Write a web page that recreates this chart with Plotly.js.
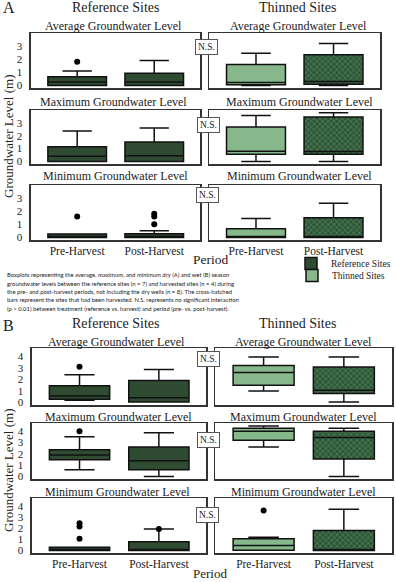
<!DOCTYPE html>
<html><head><meta charset="utf-8">
<script src="https://cdn.plot.ly/plotly-3.0.1.min.js"></script>
<style>html,body{margin:0;padding:0;background:#fff}#chart{width:396px;height:582px}</style>
</head><body><div id="chart"></div>
<script>
// ---- data: [lowerWhisker, q1, median, q3, upperWhisker] for Pre, Post ----
const periods = ['Pre-Harvest', 'Post-Harvest'];
const panelLabels = ['A', 'B'];
const groupTitles = ['Reference Sites', 'Thinned Sites'];
const rowTitles = ['Average Groundwater Level', 'Maximum Groundwater Level', 'Minimum Groundwater Level'];
const legendNames = ['Reference Sites', 'Thinned Sites'];

// Panel A (dry season)
const dryAvgRef = [[0, 0, 0.25, 0.65, 1.1], [0, 0, 0.25, 0.92, 1.9]];
const dryAvgRefOut = [[1.8], []];
const dryAvgThin = [[0, 0.05, 0.22, 1.6, 2.45], [0, 0.08, 0.3, 2.33, 3.2]];
const dryAvgThinOut = [[], []];
const dryMaxRef = [[0, 0, 0.4, 1.14, 2.37], [0, 0, 0.45, 1.52, 2.6]];
const dryMaxRefOut = [[], []];
const dryMaxThin = [[0, 0.55, 0.8, 2.68, 3.58], [0, 0.55, 0.78, 3.45, 3.78]];
const dryMaxThinOut = [[], []];
const dryMinRef = [[0, 0, 0.03, 0.25, 0.25], [0, 0, 0.03, 0.28, 0.5]];
const dryMinRefOut = [[1.6], [1.8, 1.6, 1.0]];
const dryMinThin = [[0, 0, 0.05, 0.65, 1.45], [0, 0, 0.05, 1.5, 2.6]];
const dryMinThinOut = [[], []];

// Panel B (wet season)
const wetAvgRef = [[0.2, 0.27, 0.56, 1.45, 2.4], [0.03, 0.03, 0.4, 1.9, 2.85]];
const wetAvgRefOut = [[3.1], []];
const wetAvgThin = [[1.0, 1.5, 2.6, 3.2, 3.95], [0.03, 0.77, 1.06, 3.07, 3.95]];
const wetAvgThinOut = [[], []];
const wetMaxRef = [[0.6, 1.48, 1.9, 2.35, 3.5], [0, 0.6, 1.4, 2.6, 3.85]];
const wetMaxRefOut = [[4.0], []];
const wetMaxThin = [[2.6, 3.2, 4.0, 4.25, 4.45], [0, 1.55, 3.45, 4.0, 4.25]];
const wetMaxThinOut = [[], []];
const wetMinRef = [[0, 0, 0.05, 0.3, 0.3], [0, 0, 0.1, 0.78, 1.93]];
const wetMinRefOut = [[2.45, 2.15, 1.05], [1.93]];
const wetMinThin = [[0.03, 0.03, 0.45, 1.07, 1.2], [0, 0, 0.1, 1.8, 3.7]];
const wetMinThinOut = [[3.6], []];

const captionLines = [
  'Boxplots representing the average, maximum, and minimum dry (A) and wet (B) season',
  'groundwater levels between the reference sites (n = 7) and harvested sites (n = 4) during',
  'the pre- and post-harvest periods, not including the dry wells (n = 8). The cross-hatched',
  'bars represent the sites that had been harvested. N.S. represents no significant interaction',
  '(p > 0.01) between treatment (reference vs. harvest) and period (pre- vs. post-harvest).'
];

// ---- layout helpers ----
const W = 396, H = 582;
const px = x => x / W, py = y => 1 - y / H;
const SERIF = '"Liberation Serif", "Times New Roman", serif';
const refColor = '#2f4c33', thinColor = '#86b88b';

const sets = [
  [dryAvgRef, dryAvgRefOut, dryAvgThin, dryAvgThinOut],
  [dryMaxRef, dryMaxRefOut, dryMaxThin, dryMaxThinOut],
  [dryMinRef, dryMinRefOut, dryMinThin, dryMinThinOut],
  [wetAvgRef, wetAvgRefOut, wetAvgThin, wetAvgThinOut],
  [wetMaxRef, wetMaxRefOut, wetMaxThin, wetMaxThinOut],
  [wetMinRef, wetMinRefOut, wetMinThin, wetMinThinOut]
];
const panelGeom = [
  {rows: [[33, 88], [110, 164], [185, 240]], left: [31, 201], right: [210, 381], yr: [-0.2, 4.0], tv: [0, 1, 2, 3]},
  {rows: [[348, 405], [423, 479], [498, 553]], left: [32, 207], right: [216, 393], yr: [-0.22, 4.72], tv: [0, 1, 2, 3, 4]}
];

const layout = {
  width: W, height: H, margin: {l: 0, r: 0, t: 0, b: 0},
  paper_bgcolor: '#fff', plot_bgcolor: '#fff', showlegend: true,
  font: {family: SERIF, color: '#222', size: 11},
  annotations: [],
  legend: {x: px(292), y: py(249), xanchor: 'left', yanchor: 'top', bgcolor: 'rgba(0,0,0,0)', font: {size: 9.5, family: SERIF, color: '#222'}},
  legend2: {x: px(292), y: py(261), xanchor: 'left', yanchor: 'top', bgcolor: 'rgba(0,0,0,0)', font: {size: 9.5, family: SERIF, color: '#222'}}
};
const bars = [], boxes = [], dots = [];
const BW = 0.76;

function boxTrace(ax, period, s, fill, extra) {
  return Object.assign({
    type: 'box', x: [period], lowerfence: [s[0]], q1: [s[1]], median: [s[2]], q3: [s[3]], upperfence: [s[4]],
    width: BW, fillcolor: fill, line: {color: '#111', width: 1.5}, boxpoints: false,
    xaxis: 'x' + ax, yaxis: 'y' + ax, hoverinfo: 'skip', showlegend: false
  }, extra || {});
}

for (let k = 0; k < 6; k++) {
  const p = Math.floor(k / 3), r = k % 3, g = panelGeom[p];
  const [ref, refOut, thin, thinOut] = sets[k];
  const axL = 2 * k + 1, axR = 2 * k + 2;
  const ydom = [py(g.rows[r][1]), py(g.rows[r][0])];
  [[axL, g.left, true], [axR, g.right, false]].forEach(([ax, xd, showY]) => {
    const sfx = ax === 1 ? '' : ax;
    layout['xaxis' + sfx] = {
      domain: [px(xd[0]), px(xd[1])], anchor: 'y' + ax, type: 'category',
      categoryorder: 'array', categoryarray: periods, range: [-0.6, 1.6],
      showline: true, mirror: true, linecolor: '#333', linewidth: 1.5, showgrid: false, zeroline: false,
      ticks: '', showticklabels: r === 2, tickfont: {size: 11.5, family: SERIF, color: '#222'}, fixedrange: true
    };
    layout['yaxis' + sfx] = {
      domain: ydom, anchor: 'x' + ax, range: g.yr, tickvals: g.tv,
      showline: true, mirror: true, linecolor: '#333', linewidth: 1.5, showgrid: false, zeroline: false,
      ticks: '', ticklabelstandoff: 5, showticklabels: showY, tickfont: {size: 11, family: SERIF, color: '#222'}, fixedrange: true
    };
  });
  periods.forEach((per, j) => {
    boxes.push(boxTrace(axL, per, ref[j], refColor,
      (k === 0 && j === 0) ? {showlegend: true, name: legendNames[0], legend: 'legend'} : {}));
    if (j === 1) {
      bars.push({type: 'bar', x: [per], y: [thin[j][3] - thin[j][1]], base: [thin[j][1]], width: BW,
        marker: {color: '#2e5738', line: {width: 0}, pattern: {shape: 'x', bgcolor: '#2e5738', fgcolor: '#8dbb93', size: 4, solidity: 0.15}},
        xaxis: 'x' + axR, yaxis: 'y' + axR, hoverinfo: 'skip', showlegend: false});
      boxes.push(boxTrace(axR, per, thin[j], 'rgba(0,0,0,0)'));
    } else {
      boxes.push(boxTrace(axR, per, thin[j], thinColor,
        (k === 0) ? {showlegend: true, name: legendNames[1], legend: 'legend2'} : {}));
    }
    [[axL, refOut[j]], [axR, thinOut[j]]].forEach(([ax, arr]) => {
      if (arr.length) dots.push({type: 'scatter', mode: 'markers', x: arr.map(() => per), y: arr,
        marker: {color: '#000', size: 6}, xaxis: 'x' + ax, yaxis: 'y' + ax, hoverinfo: 'skip', showlegend: false});
    });
  });
}

function ann(text, x, y, size, extra) {
  layout.annotations.push(Object.assign({text, x: px(x), y: py(y), xref: 'paper', yref: 'paper',
    showarrow: false, xanchor: 'center', yanchor: 'middle', font: {size, family: SERIF, color: '#222'}}, extra || {}));
}
// Panel A text
ann(panelLabels[0], 9, 8, 16);
ann(groupTitles[0], 116, 8, 14);
ann(groupTitles[1], 298, 8, 14);
[[26, 114, 299], [102, 114, 300], [176, 116, 300]].forEach((t, i) => { ann(rowTitles[i], t[1], t[0], 12); ann(rowTitles[i], t[2], t[0], 12); });
ann('Period', 211, 259, 13.5);
ann('Groundwater Level (m)', 8, 136, 13, {textangle: -90});
// Panel B text
ann(panelLabels[1], 9, 325, 16);
ann(groupTitles[0], 116, 323, 14);
ann(groupTitles[1], 298, 323, 14);
[[342, 117, 304], [417, 119, 304], [492, 118, 304]].forEach((t, i) => { ann(rowTitles[i], t[1], t[0], 12); ann(rowTitles[i], t[2], t[0], 12); });
ann('Period', 211, 573, 13);
ann('Groundwater Level (m)', 8, 470, 13, {textangle: -90});
// N.S. labels
[[207, 47], [209, 125], [208, 195], [209, 359], [209, 440], [208, 515]].forEach(([x, y]) =>
  ann('N.S.', x, y, 9.5, {bgcolor: '#fff', bordercolor: '#555', borderwidth: 1, borderpad: 2}));
// caption
const capY = [274.5, 283, 291.5, 300, 308.5];
captionLines.forEach((t, i) => ann(t, 5, capY[i], 5.9, {xanchor: 'left', font: {size: 5.9, family: 'Lato, "Open Sans", sans-serif', color: '#222'}}));

Plotly.newPlot('chart', bars.concat(boxes, dots), layout, {staticPlot: true, displayModeBar: false});
</script></body></html>
